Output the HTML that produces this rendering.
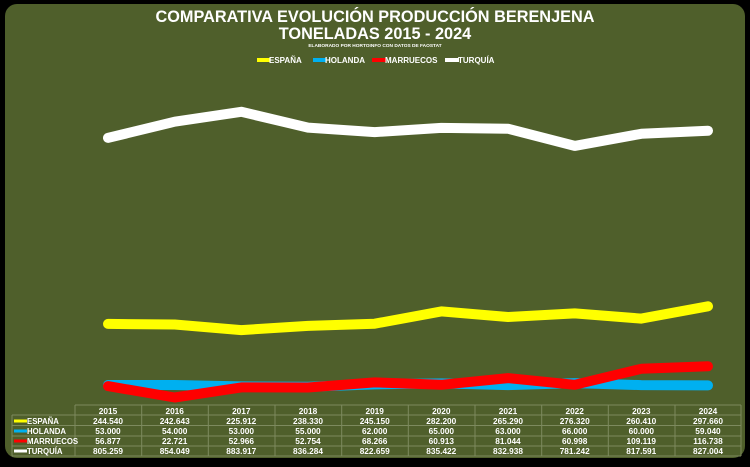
<!DOCTYPE html>
<html><head><meta charset="utf-8"><style>
body{margin:0;background:#000;width:750px;height:462px;overflow:hidden}
</style></head><body>
<svg width="750" height="462" xmlns="http://www.w3.org/2000/svg" font-family="Liberation Sans, DejaVu Sans, sans-serif" font-weight="bold">
<rect x="0" y="0" width="750" height="462" fill="#000"/>
<rect x="5" y="4" width="740" height="454" rx="12" fill="#4f5f2b"/>
<g fill="#fff" text-anchor="middle">
<text x="375" y="22" font-size="16.3">COMPARATIVA EVOLUCIÓN PRODUCCIÓN BERENJENA</text>
<text x="375" y="39" font-size="16.3">TONELADAS 2015 - 2024</text>
<text x="375" y="47" font-size="4.8">ELABORADO POR HORTOINFO CON DATOS DE  FAOSTAT</text>
</g>
<g font-size="8" fill="#fff">
<line x1="257" y1="60" x2="270" y2="60" stroke="#ffff00" stroke-width="4"/><text x="269" y="63">ESPAÑA</text>
<line x1="313" y1="60" x2="326" y2="60" stroke="#00b0f0" stroke-width="4"/><text x="325" y="63">HOLANDA</text>
<line x1="372" y1="60" x2="386" y2="60" stroke="#ff0000" stroke-width="4"/><text x="385" y="63">MARRUECOS</text>
<line x1="445" y1="60" x2="459" y2="60" stroke="#fff" stroke-width="4"/><text x="458" y="63">TURQUÍA</text>
</g>
<g fill="none" stroke-width="10" stroke-linecap="round" stroke-linejoin="round">
<polyline stroke="#fff" points="108,137.9 174.7,121.7 241.3,111.8 308,127.6 374.7,132.1 441.3,127.9 508,128.7 574.7,145.9 641.3,133.8 708,130.7"/>
<polyline stroke="#ffff00" points="108,323.9 174.7,324.5 241.3,330.1 308,325.9 374.7,323.7 441.3,311.4 508,317 574.7,313.4 641.3,318.6 708,306.3"/>
<polyline stroke="#00b0f0" points="108,385 174.7,385 241.3,386.4 308,386.8 374.7,384.4 441.3,383.4 508,385.1 574.7,383.1 641.3,385.1 708,385.4"/>
<polyline stroke="#ff0000" points="108,386.1 174.7,397.5 241.3,387.4 308,387.5 374.7,382.4 441.3,384.8 508,378.1 574.7,384.8 641.3,368.8 708,366.3"/>
</g>
<g stroke="#7d8a5e" stroke-width="1" fill="none">
<line x1="75" y1="405" x2="741" y2="405"/>
<line x1="12" y1="415" x2="741" y2="415"/>
<line x1="12" y1="425.5" x2="741" y2="425.5"/>
<line x1="12" y1="436" x2="741" y2="436"/>
<line x1="12" y1="446" x2="741" y2="446"/>
<line x1="12" y1="456" x2="741" y2="456"/>
<line x1="12" y1="415" x2="12" y2="456"/>
<line x1="75" y1="405" x2="75" y2="456"/>
<line x1="141.7" y1="405" x2="141.7" y2="456"/>
<line x1="208.3" y1="405" x2="208.3" y2="456"/>
<line x1="275" y1="405" x2="275" y2="456"/>
<line x1="341.7" y1="405" x2="341.7" y2="456"/>
<line x1="408.3" y1="405" x2="408.3" y2="456"/>
<line x1="475" y1="405" x2="475" y2="456"/>
<line x1="541.7" y1="405" x2="541.7" y2="456"/>
<line x1="608.3" y1="405" x2="608.3" y2="456"/>
<line x1="675" y1="405" x2="675" y2="456"/>
<line x1="741" y1="405" x2="741" y2="456"/>
</g>
<g stroke-width="3">
<line x1="14" y1="421" x2="27" y2="421" stroke="#ffff00"/>
<line x1="14" y1="431" x2="27" y2="431" stroke="#00b0f0"/>
<line x1="14" y1="441" x2="27" y2="441" stroke="#ff0000"/>
<line x1="14" y1="451" x2="27" y2="451" stroke="#fff"/>
</g>
<g fill="#fff" font-size="7.8">
<text x="27" y="424">ESPAÑA</text>
<text x="27" y="434">HOLANDA</text>
<text x="27" y="444">MARRUECOS</text>
<text x="27" y="454">TURQUÍA</text>
</g>
<g fill="#fff" font-size="8.3" text-anchor="middle">
<text x="108" y="414">2015</text><text x="174.7" y="414">2016</text><text x="241.3" y="414">2017</text><text x="308" y="414">2018</text><text x="374.7" y="414">2019</text><text x="441.3" y="414">2020</text><text x="508" y="414">2021</text><text x="574.7" y="414">2022</text><text x="641.3" y="414">2023</text><text x="708" y="414">2024</text>
<text x="108" y="424">244.540</text><text x="174.7" y="424">242.643</text><text x="241.3" y="424">225.912</text><text x="308" y="424">238.330</text><text x="374.7" y="424">245.150</text><text x="441.3" y="424">282.200</text><text x="508" y="424">265.290</text><text x="574.7" y="424">276.320</text><text x="641.3" y="424">260.410</text><text x="708" y="424">297.660</text>
<text x="108" y="434">53.000</text><text x="174.7" y="434">54.000</text><text x="241.3" y="434">53.000</text><text x="308" y="434">55.000</text><text x="374.7" y="434">62.000</text><text x="441.3" y="434">65.000</text><text x="508" y="434">63.000</text><text x="574.7" y="434">66.000</text><text x="641.3" y="434">60.000</text><text x="708" y="434">59.040</text>
<text x="108" y="444">56.877</text><text x="174.7" y="444">22.721</text><text x="241.3" y="444">52.966</text><text x="308" y="444">52.754</text><text x="374.7" y="444">68.266</text><text x="441.3" y="444">60.913</text><text x="508" y="444">81.044</text><text x="574.7" y="444">60.998</text><text x="641.3" y="444">109.119</text><text x="708" y="444">116.738</text>
<text x="108" y="454">805.259</text><text x="174.7" y="454">854.049</text><text x="241.3" y="454">883.917</text><text x="308" y="454">836.284</text><text x="374.7" y="454">822.659</text><text x="441.3" y="454">835.422</text><text x="508" y="454">832.938</text><text x="574.7" y="454">781.242</text><text x="641.3" y="454">817.591</text><text x="708" y="454">827.004</text>
</g>
</svg>
</body></html>
